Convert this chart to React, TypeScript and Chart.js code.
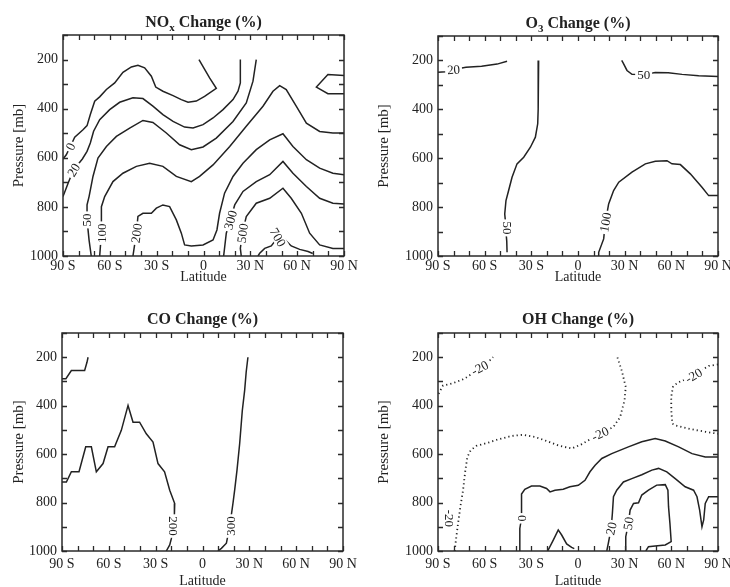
import React, { useEffect, useRef } from "react";
import { Chart, registerables } from "chart.js";
Chart.register(...registerables);

type Pt = [number, number]; // [latitude (deg, S negative), pressure (mb)]

// ---------- axis ticks ----------
const latitudeTicks = [-90, -60, -30, 0, 30, 60, 90];
const latitudeTickLabels = ["90 S", "60 S", "30 S", "0", "30 N", "60 N", "90 N"];
const pressureTicks = [200, 400, 600, 800, 1000];

// ---------- NOx change contours ----------
const nox0: Pt[] = [[-90, 605], [-87.9, 588], [-85.3, 554], [-82.5, 516], [-77.2, 486], [-74.6, 469], [-72.5, 424], [-69.7, 370], [-66.5, 352], [-62.2, 322], [-56.9, 295], [-51.6, 252], [-46.2, 230], [-42, 223], [-37.7, 234], [-33.4, 268], [-30.6, 312], [-26, 329], [-19.5, 347], [-14.2, 363], [-9.9, 374], [-4.6, 369], [0.7, 350], [8.2, 317], [3.9, 275], [-2.9, 200]];
const nox20: Pt[] = [[-90, 758], [-86.5, 700], [-83.2, 649], [-77.6, 605], [-74.6, 574], [-72.5, 540], [-70.4, 492], [-66.5, 445], [-60.1, 404], [-53.7, 374], [-45.2, 356], [-38.8, 359], [-32.4, 390], [-26, 424], [-19.5, 452], [-12.1, 475], [-6.7, 479], [-0.3, 465], [6.1, 438], [12.5, 404], [18.9, 363], [22.1, 329], [23.6, 295], [23.6, 200]];
const nox50: Pt[] = [[-71.9, 1000], [-73.3, 935], [-74.6, 853], [-74.6, 792], [-73.3, 758], [-70.8, 676], [-67.6, 601], [-62.2, 554], [-55.8, 513], [-47.3, 479], [-38.8, 448], [-32.4, 456], [-23.8, 499], [-15.3, 547], [-7.8, 567], [-0.3, 556], [8.2, 520], [18.9, 452], [27.4, 377], [31.7, 288], [33.8, 200]];
const nox100: Pt[] = [[-66.5, 1000], [-65.4, 907], [-65.4, 799], [-63.3, 758], [-58, 697], [-51.6, 663], [-43, 635], [-34.5, 622], [-26, 635], [-17.4, 676], [-7.8, 697], [-2.5, 676], [6.1, 629], [16.8, 554], [27.4, 472], [38.1, 390], [44.5, 329], [48.8, 306], [53, 322], [59.4, 390], [65.9, 459], [74.4, 493], [82.9, 499], [90, 499]];
const nox200: Pt[] = [[-45.2, 1000], [-43, 907], [-42, 839], [-38.8, 826], [-33.4, 826], [-30.2, 805], [-26, 792], [-21.7, 799], [-17.4, 853], [-14.2, 907], [-12.1, 955], [-7.8, 959], [-0.3, 955], [6.1, 935], [8.6, 894], [10.3, 826], [13.5, 744], [18.9, 676], [25.3, 622], [33.8, 567], [42.4, 527], [50.9, 502], [57.3, 554], [65.9, 608], [74.4, 642], [82.9, 663], [90, 669]];
const nox300: Pt[] = [[12.9, 1000], [14.6, 907], [17.2, 853], [20, 792], [25.3, 737], [33.8, 697], [42.4, 669], [50.9, 615], [57.3, 663], [65.9, 717], [74.4, 765], [82.9, 785], [90, 788]];
const nox500: Pt[] = [[24.2, 1000], [23.6, 969], [24.9, 907], [27.4, 839], [33.8, 785], [42.4, 765], [50.9, 724], [56.2, 765], [62.7, 826], [68, 907], [74.4, 955], [82.9, 969], [90, 969]];
const nox700: Pt[] = [[34.9, 1000], [36, 989], [39.2, 969], [43.4, 959], [47.7, 924], [52, 932], [56.2, 959], [61.6, 973], [67, 982], [70, 990]];
const noxTopRight: Pt[] = [[90, 265], [79.7, 261], [72.3, 312], [79.7, 339], [90, 339]];
const noxLabelText = ["0", "20", "50", "100", "200", "300", "500", "700"];
const noxLabelAt: Pt[] = [[-85.3, 554], [-83.2, 649], [-74.6, 853], [-65.4, 907], [-43, 907], [17.2, 853], [24.9, 907], [47.7, 924]];
const noxLabelAngle = [-65, -58, -90, -90, -82, -75, -82, 60];

// ---------- O3 change contours ----------
const o3m20: Pt[] = [[-90, 248], [-85, 246], [-80, 237], [-72, 228], [-62, 224], [-52, 215], [-45.6, 203]];
const o3West50: Pt[] = [[-25.3, 200], [-25.5, 300], [-25.7, 400], [-25.9, 459], [-27.4, 514], [-30.6, 555], [-34.9, 596], [-39.2, 623], [-42.4, 678], [-44.6, 732], [-46.3, 773], [-47.1, 828], [-46.7, 855], [-46.3, 900], [-45.8, 940], [-45.6, 985]];
const o3East50: Pt[] = [[28.1, 200], [29, 210], [31.5, 241], [34.7, 257], [42.2, 258], [49.7, 249], [58, 250], [66.9, 257], [77.6, 263], [90, 266]];
const o3p100: Pt[] = [[13.3, 1000], [13.3, 985], [16.5, 930], [17.6, 862], [19.7, 787], [22.9, 732], [26.2, 698], [34.7, 657], [43.3, 623], [49.7, 612], [57.2, 610], [60.4, 623], [65.8, 626], [72.2, 664], [79.7, 719], [84, 753], [90, 753]];
const o3LabelText = ["20", "50", "50", "100"];
const o3LabelAt: Pt[] = [[-80, 237], [-45.5, 885], [42.2, 258], [17.6, 862]];
const o3LabelAngle = [-4, 90, 0, -80];

// ---------- CO change contours ----------
const coNorthWest: Pt[] = [[-90, 289], [-87.5, 289], [-84, 255], [-75.5, 255], [-74, 221], [-73.3, 200]];
const co200: Pt[] = [[-90, 715], [-87.2, 715], [-84, 673], [-79.1, 673], [-74.8, 570], [-71.2, 570], [-68, 673], [-63.7, 639], [-60.5, 570], [-56.3, 570], [-52, 502], [-47.7, 399], [-44.5, 468], [-40.3, 468], [-36, 516], [-31.7, 550], [-28.5, 639], [-24.3, 673], [-21, 749], [-17.8, 804], [-18, 850], [-18.5, 900], [-20, 950], [-21, 975], [-23.2, 1000]];
const co300: Pt[] = [[29.1, 200], [28, 260], [27, 337], [25.5, 420], [23.8, 557], [22.1, 666], [20.6, 749], [19.5, 804], [18.5, 850], [17.4, 900], [15.3, 968], [12.1, 989], [9.9, 1000]];
const coLabelText = ["200", "300"];
const coLabelAt: Pt[] = [[-18.6, 897], [17.8, 897]];
const coLabelAngle = [90, -90];

// ---------- OH change contours ----------
const ohM20West: Pt[] = [[-89.6, 351], [-86.8, 317], [-80.3, 307], [-73, 289], [-67.7, 266], [-63.2, 244], [-60, 226], [-56, 210], [-54.6, 200]];
const ohM20Mid: Pt[] = [[-79.3, 1000], [-78.2, 941], [-77.1, 886], [-75.6, 817], [-73.9, 749], [-72.4, 666], [-71.1, 612], [-69, 584], [-65.3, 566], [-57.8, 553], [-51.3, 539], [-42.7, 525], [-35.2, 520], [-27.7, 529], [-20.2, 546], [-12.7, 564], [-4.1, 577], [2.4, 559], [8, 538], [14.2, 516], [22.8, 488], [27.1, 447], [29.9, 378], [30.7, 323], [28.1, 255], [25.3, 200]];
const ohM20East: Pt[] = [[90, 230], [84, 236], [79, 255], [74.3, 275], [69, 292], [64, 305], [61, 323], [59.9, 365], [60, 420], [60.6, 474], [63, 482], [68, 490], [75, 500], [82, 508], [90, 516]];
const oh0: Pt[] = [[-37.4, 1000], [-37.4, 907], [-36.3, 865], [-36.3, 817], [-36.3, 765], [-34.2, 745], [-29.9, 732], [-24.5, 732], [-20.2, 742], [-18, 756], [-14.8, 749], [-9.5, 745], [-5.2, 735], [0.2, 729], [4.5, 708], [7.7, 673], [11, 646], [15.3, 618], [21.7, 598], [32.4, 570], [41, 549], [49.6, 536], [56.1, 546], [64.7, 570], [73.3, 598], [81.8, 612], [90, 612]];
const oh0Bump: Pt[] = [[-19.5, 1000], [-15.9, 955], [-12.7, 913], [-10.5, 934], [-7.3, 971], [-4.1, 985], [-2.4, 990]];
const oh20: Pt[] = [[18.5, 1000], [19.5, 968], [21.3, 907], [22.1, 845], [22.8, 776], [24.9, 749], [29.2, 715], [34.6, 701], [41, 685], [47.5, 666], [51.8, 659], [57.1, 673], [62.5, 701], [68.9, 735], [74.3, 749], [76.5, 776], [78.2, 831], [79.7, 900], [80.8, 872], [81.8, 804], [84, 776], [90, 776]];
const oh50: Pt[] = [[30.3, 1000], [30.7, 941], [32.4, 886], [33.5, 831], [35.7, 804], [38.9, 801], [41, 769], [45.3, 749], [50.6, 728], [56.1, 726], [57.8, 749], [58.2, 817], [59.1, 886], [59.9, 961], [56.1, 975], [49.6, 979], [45.3, 982], [43.6, 1000]];
const ohLabelText = ["-20", "-20", "-20", "-20", "0", "20", "50"];
const ohLabelAt: Pt[] = [[-63.2, 244], [14.2, 516], [74.3, 275], [-82.5, 865], [-36.3, 865], [21.3, 907], [32.4, 886]];
const ohLabelAngle = [-28, -25, -30, 90, -90, -78, -82];

// ---------- rendering ----------
const FONT = "'Liberation Serif', 'Times New Roman', serif";
const INK = "#222222";

type Line = { pts: Pt[]; dotted?: boolean };
type Spec = {
  title: { t: string; sub?: boolean }[];
  lines: Line[];
  labelText: string[];
  labelAt: Pt[];
  labelAngle: number[];
  box: { x: number; y: number; w: number; h: number };
  padRight: number;
  padTop: number;
  yWidth: number;
  xHeight: number;
  titleBase: number;
  tickPad: number;
  xTitlePad: number;
};

const specs: Spec[] = [
  {
    title: [{ t: "NO" }, { t: "x", sub: true }, { t: " Change (%)" }],
    lines: [nox0, nox20, nox50, nox100, nox200, nox300, nox500, nox700, noxTopRight].map((pts) => ({ pts })),
    labelText: noxLabelText, labelAt: noxLabelAt, labelAngle: noxLabelAngle,
    box: { x: 0, y: 0, w: 365, h: 290 }, padRight: 21, padTop: 35, yWidth: 63, xHeight: 34, titleBase: 27,
    tickPad: 2, xTitlePad: 4,
  },
  {
    title: [{ t: "O" }, { t: "3", sub: true }, { t: " Change (%)" }],
    lines: [o3m20, o3West50, o3East50, o3p100].map((pts) => ({ pts })),
    labelText: o3LabelText, labelAt: o3LabelAt, labelAngle: o3LabelAngle,
    box: { x: 365, y: 0, w: 365, h: 290 }, padRight: 12, padTop: 36, yWidth: 73, xHeight: 34, titleBase: 28,
    tickPad: 2, xTitlePad: 4,
  },
  {
    title: [{ t: "CO Change (%)" }],
    lines: [coNorthWest, co200, co300].map((pts) => ({ pts })),
    labelText: coLabelText, labelAt: coLabelAt, labelAngle: coLabelAngle,
    box: { x: 0, y: 290, w: 365, h: 297 }, padRight: 22, padTop: 43, yWidth: 62, xHeight: 36, titleBase: 34,
    tickPad: 5, xTitlePad: -3,
  },
  {
    title: [{ t: "OH Change (%)" }],
    lines: [
      { pts: ohM20West, dotted: true }, { pts: ohM20Mid, dotted: true }, { pts: ohM20East, dotted: true },
      { pts: oh0 }, { pts: oh0Bump }, { pts: oh20 }, { pts: oh50 },
    ],
    labelText: ohLabelText, labelAt: ohLabelAt, labelAngle: ohLabelAngle,
    box: { x: 365, y: 290, w: 365, h: 297 }, padRight: 12, padTop: 43, yWidth: 73, xHeight: 36, titleBase: 34,
    tickPad: 5, xTitlePad: -3,
  },
];

function makeChart(canvas: HTMLCanvasElement, spec: Spec) {
  const titlePlugin = {
    id: "panelTitle",
    afterDraw(chart: any) {
      const { ctx, chartArea: a } = chart;
      ctx.save();
      const mainF = `bold 16px ${FONT}`;
      const subF = `bold 11px ${FONT}`;
      let total = 0;
      for (const p of spec.title) { ctx.font = p.sub ? subF : mainF; total += ctx.measureText(p.t).width; }
      let x = (a.left + a.right) / 2 - total / 2;
      ctx.fillStyle = INK;
      ctx.textBaseline = "alphabetic";
      ctx.textAlign = "left";
      for (const p of spec.title) {
        ctx.font = p.sub ? subF : mainF;
        ctx.fillText(p.t, x, spec.titleBase + (p.sub ? 4 : 0));
        x += ctx.measureText(p.t).width;
      }
      ctx.restore();
    },
  };
  const labelPlugin = {
    id: "contourLabels",
    afterDatasetsDraw(chart: any) {
      const { ctx, scales } = chart;
      ctx.save();
      ctx.font = `13px ${FONT}`;
      ctx.textAlign = "center";
      ctx.textBaseline = "middle";
      spec.labelText.forEach((text, i) => {
        const [lat, p] = spec.labelAt[i];
        const px = scales.x.getPixelForValue(lat);
        const py = scales.y.getPixelForValue(p);
        ctx.save();
        ctx.translate(px, py);
        ctx.rotate((spec.labelAngle[i] * Math.PI) / 180);
        const w = ctx.measureText(text).width;
        ctx.fillStyle = "#ffffff";
        ctx.fillRect(-w / 2 - 2, -6, w + 4, 12);
        ctx.fillStyle = INK;
        ctx.fillText(text, 0, 1);
        ctx.restore();
      });
      ctx.restore();
    },
  };
  const framePlugin = {
    id: "frameTicks",
    afterDatasetsDraw(chart: any) {
      const { ctx, chartArea: a, scales } = chart;
      ctx.save();
      ctx.strokeStyle = "#2a2a2a";
      ctx.lineWidth = 1.3;
      ctx.beginPath();
      for (const t of scales.x.ticks) {
        const px = Math.round(scales.x.getPixelForValue(t.value)) + 0.5;
        ctx.moveTo(px, a.bottom); ctx.lineTo(px, a.bottom - 5);
        ctx.moveTo(px, a.top); ctx.lineTo(px, a.top + 5);
      }
      for (const t of scales.y.ticks) {
        const py = Math.round(scales.y.getPixelForValue(t.value)) + 0.5;
        ctx.moveTo(a.left, py); ctx.lineTo(a.left + 5, py);
        ctx.moveTo(a.right, py); ctx.lineTo(a.right - 5, py);
      }
      ctx.stroke();
      ctx.lineWidth = 1.5;
      ctx.strokeRect(a.left, a.top, a.right - a.left, a.bottom - a.top);
      ctx.restore();
    },
  };

  return new Chart(canvas, {
    type: "scatter",
    data: {
      datasets: spec.lines.map((l) => ({
        data: l.pts.map(([x, y]) => ({ x, y })),
        showLine: true,
        borderColor: INK,
        borderWidth: l.dotted ? 1.8 : 1.5,
        borderDash: l.dotted ? [1.2, 3] : [],
        pointRadius: 0,
        pointHoverRadius: 0,
        tension: 0,
        fill: false,
      })),
    },
    options: {
      responsive: false,
      animation: false,
      events: [],
      layout: { padding: { left: 0, right: spec.padRight, top: spec.padTop, bottom: 0 } },
      plugins: { legend: { display: false }, tooltip: { enabled: false }, title: { display: false } },
      scales: {
        x: {
          type: "linear", position: "bottom", min: -90, max: 90,
          grid: { display: false, drawTicks: false },
          border: { display: false },
          ticks: {
            stepSize: 10, autoSkip: false, maxRotation: 0, minRotation: 0, padding: spec.tickPad, color: INK,
            font: { family: FONT, size: 14 },
            callback: (v: any) => {
              const i = latitudeTicks.indexOf(Number(v));
              return i >= 0 ? latitudeTickLabels[i] : "";
            },
          },
          title: { display: true, text: "Latitude", color: INK, font: { family: FONT, size: 14 }, padding: { top: 0, bottom: spec.xTitlePad } },
          afterFit: (s: any) => { s.height = spec.xHeight; s.paddingLeft = 0; s.paddingRight = 0; },
        },
        y: {
          type: "linear", position: "left", min: 100, max: 1000, reverse: true,
          grid: { display: false, drawTicks: false },
          border: { display: false },
          ticks: {
            stepSize: 100, autoSkip: false, padding: 5, color: INK,
            font: { family: FONT, size: 14 },
            callback: (v: any) => (pressureTicks.includes(Number(v)) ? String(v) : ""),
          },
          title: { display: true, text: "Pressure [mb]", color: INK, font: { family: FONT, size: 15 }, padding: { top: 10, bottom: 0 } },
          afterFit: (s: any) => { s.width = spec.yWidth; s.paddingTop = 0; s.paddingBottom = 0; },
        },
      },
    },
    plugins: [labelPlugin, framePlugin, titlePlugin],
  } as any);
}

export default function App() {
  const refs = useRef<(HTMLCanvasElement | null)[]>([]);
  useEffect(() => {
    const charts = specs.map((s, i) => makeChart(refs.current[i] as HTMLCanvasElement, s));
    return () => charts.forEach((c) => c.destroy());
  }, []);
  return (
    <div style={{ position: "absolute", left: 0, top: 0, width: 730, height: 587, background: "#fff", overflow: "hidden" }}>
      {specs.map((s, i) => (
        <canvas
          key={i}
          ref={(el) => { refs.current[i] = el; }}
          width={s.box.w}
          height={s.box.h}
          style={{ position: "absolute", left: s.box.x, top: s.box.y, width: s.box.w, height: s.box.h }}
        />
      ))}
    </div>
  );
}
